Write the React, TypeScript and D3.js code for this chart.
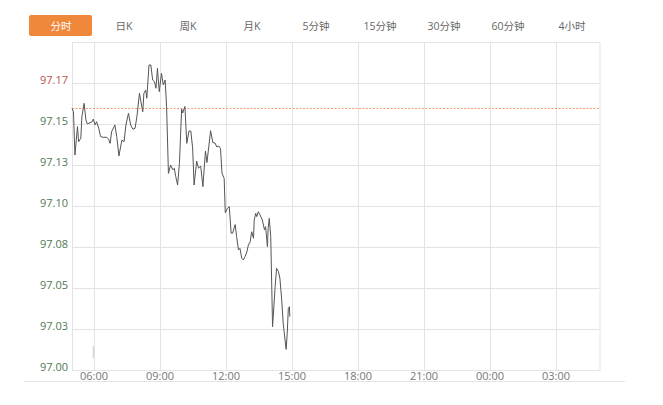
import React from "react";
import * as d3 from "d3";

const TABS = ["分时", "日K", "周K", "月K", "5分钟", "15分钟", "30分钟", "60分钟", "4小时"];
const Y_TICK_VALUES = [97.0, 97.025, 97.05, 97.075, 97.1, 97.125, 97.15, 97.175];
const Y_TICK_LABELS = ["97.00", "97.03", "97.05", "97.08", "97.10", "97.13", "97.15", "97.17"];
const X_TICK_LABELS = ["06:00", "09:00", "12:00", "15:00", "18:00", "21:00", "00:00", "03:00"];
const PREV_CLOSE = 97.16;

const TIMES = [
  "05:00", "05:04", "05:08", "05:15", "05:18", "05:24", "05:27", "05:33", "05:38", "05:42",
  "05:49", "05:55", "05:58", "06:03", "06:07", "06:13", "06:18", "06:25", "06:35", "06:40",
  "06:44", "06:48", "06:57", "07:02", "07:08", "07:16", "07:22", "07:27", "07:34", "07:40",
  "07:46", "07:52", "07:57", "08:04", "08:08", "08:13", "08:16", "08:21", "08:24", "08:30",
  "08:35", "08:40", "08:45", "08:49", "08:53", "08:58", "09:04", "09:09", "09:14", "09:18",
  "09:23", "09:29", "09:35", "09:39", "09:43", "09:48", "09:53", "09:59", "10:02", "10:08",
  "10:13", "10:19", "10:24", "10:29", "10:33", "10:40", "10:45", "10:51", "10:57", "11:04",
  "11:08", "11:12", "11:18", "11:24", "11:30", "11:35", "11:40", "11:45", "11:49", "11:55",
  "11:58", "12:04", "12:09", "12:14", "12:18", "12:25", "12:29", "12:34", "12:38", "12:43",
  "12:47", "12:52", "12:57", "13:01", "13:06", "13:10", "13:15", "13:17", "13:21", "13:24",
  "13:28", "13:33", "13:39", "13:45", "13:48", "13:53", "13:55", "13:58", "14:02", "14:07",
  "14:14", "14:18", "14:23", "14:27", "14:32", "14:36", "14:41", "14:44", "14:47", "14:50",
  "14:53", "14:54",
];

const PRICES = [
  97.1596, 97.1575, 97.1311, 97.1484, 97.1392, 97.1413, 97.1545, 97.1626, 97.1524, 97.15,
  97.1508, 97.1514, 97.153, 97.1494, 97.1514, 97.1474, 97.1423, 97.1419, 97.1419, 97.1407,
  97.1382, 97.1453, 97.1494, 97.1423, 97.1305, 97.1402, 97.1392, 97.1494, 97.1565, 97.1494,
  97.1468, 97.1474, 97.1545, 97.1687, 97.1636, 97.1575, 97.1687, 97.1707, 97.1657, 97.186,
  97.186, 97.1768, 97.1758, 97.1718, 97.184, 97.1697, 97.1809, 97.1738, 97.1768, 97.1606,
  97.1199, 97.125, 97.122, 97.123, 97.1179, 97.1128, 97.126, 97.1591, 97.1567, 97.1607,
  97.1382, 97.1457, 97.1457, 97.1354, 97.1128, 97.1274, 97.123, 97.1244, 97.1118, 97.1335,
  97.1265, 97.1341, 97.1459, 97.1387, 97.1384, 97.136, 97.1366, 97.1351, 97.1201, 97.1168,
  97.0959, 97.0986, 97.0996, 97.0834, 97.0834, 97.0887, 97.0813, 97.0732, 97.0742, 97.0681,
  97.0671, 97.0691, 97.0721, 97.0762, 97.0782, 97.0843, 97.0803, 97.0915, 97.0955, 97.0935,
  97.0965, 97.0945, 97.0915, 97.0854, 97.0874, 97.0752, 97.0864, 97.0925, 97.0813, 97.0264,
  97.0508, 97.062, 97.06, 97.0559, 97.0427, 97.0285, 97.0183, 97.0126, 97.0224, 97.0376,
  97.0386, 97.0325,
];

// faint stray tick near 06:00
const STUB_TIME = "05:58";
const STUB_RANGE = [97.0073, 97.0146];

function toDate(hhmm: string): Date {
  const [h, m] = hhmm.split(":").map(Number);
  const day = h < 5 ? 2 : 1;
  return new Date(2024, 0, day, h, m);
}

export default function App() {
  const W = 663;
  const H = 405;
  const left = 72;
  const right = 599.5;
  const top = 42;
  const bottom = 370;

  const x = d3
    .scaleTime()
    .domain([new Date(2024, 0, 1, 5, 0), new Date(2024, 0, 2, 5, 0)])
    .range([left, right + 0.5]);
  const y = d3.scaleLinear().domain([97.0, 97.2]).range([bottom, top]);

  const data = TIMES.map((t, i) => ({ t: toDate(t), v: PRICES[i] }));
  const line = d3
    .line<{ t: Date; v: number }>()
    .x((d) => x(d.t))
    .y((d) => y(d.v));

  const tabX = d3.scalePoint<string>().domain(TABS).range([60, 572]);

  const font = "'Open Sans', 'Noto Sans CJK SC', sans-serif";
  const gridColor = "#e3e3e3";

  return (
    <svg
      width={W}
      height={H}
      style={{ position: "absolute", left: 0, top: 0, background: "#fff" }}
      fontFamily={font}
    >
      {/* tabs */}
      <rect x={29} y={15} width={63} height={21} rx={2} fill="#f0883c" />
      {TABS.map((t, i) => (
        <text
          key={t}
          x={i === 0 ? 61 : tabX(t)}
          y={29.5}
          textAnchor="middle"
          fontSize={10.5}
          fill={i === 0 ? "#ffffff" : "#666"}
        >
          {t}
        </text>
      ))}

      {/* horizontal gridlines */}
      {Y_TICK_VALUES.map((v, i) => (
        <line
          key={"hy" + i}
          x1={left}
          x2={right}
          y1={Math.round(y(v)) + 0.5}
          y2={Math.round(y(v)) + 0.5}
          stroke={gridColor}
        />
      ))}
      {/* vertical gridlines */}
      {X_TICK_LABELS.map((l, i) => {
        const xx = Math.round(x(toDate(l))) + 0.5;
        return <line key={"vx" + i} x1={xx} x2={xx} y1={top} y2={bottom} stroke={gridColor} />;
      })}
      {/* plot border */}
      <rect x={left + 0.5} y={top + 0.5} width={right - left} height={bottom - top} fill="none" stroke={gridColor} />
      {/* bottom axis line */}
      <line x1={24} x2={625} y1={381.5} y2={381.5} stroke="#e3e3e3" />

      {/* previous close reference */}
      <line
        x1={left}
        x2={right}
        y1={Math.round(y(PREV_CLOSE)) + 0.5}
        y2={Math.round(y(PREV_CLOSE)) + 0.5}
        stroke="#f29a72"
        strokeDasharray="2,1.5"
      />

      {/* y labels */}
      {Y_TICK_VALUES.map((v, i) => (
        <text
          key={"yl" + i}
          x={68}
          y={y(v) + 0.5}
          textAnchor="end"
          fontSize={11}
          fill={v > PREV_CLOSE ? "#c0504d" : "#4f7a4f"}
        >
          {Y_TICK_LABELS[i]}
        </text>
      ))}

      {/* x labels */}
      {X_TICK_LABELS.map((l, i) => (
        <text key={"xl" + i} x={x(toDate(l))} y={380} textAnchor="middle" fontSize={11} fill="#777">
          {l}
        </text>
      ))}

      {/* stub */}
      <line
        x1={x(toDate(STUB_TIME))}
        x2={x(toDate(STUB_TIME))}
        y1={y(STUB_RANGE[0])}
        y2={y(STUB_RANGE[1])}
        stroke="#c8c8c8"
      />

      {/* price line */}
      <path d={line(data) || ""} fill="none" stroke="#555" strokeWidth={1} strokeLinejoin="round" />
    </svg>
  );
}
